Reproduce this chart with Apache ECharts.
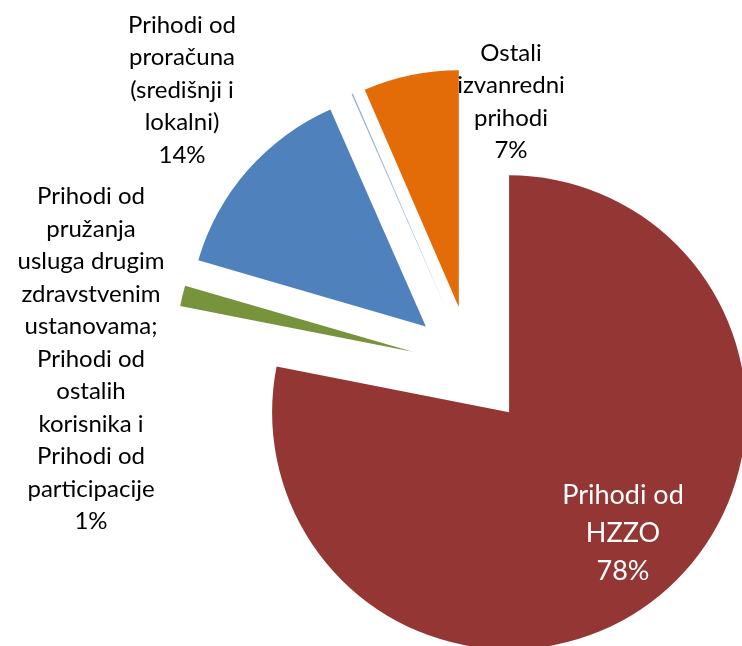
<!DOCTYPE html>
<html>
<head>
<meta charset="utf-8">
<script src="https://cdn.jsdelivr.net/npm/echarts@6/dist/echarts.min.js"></script>
<style>
html,body{margin:0;padding:0;background:#fff;}
#chart{width:742px;height:646px;}
</style>
</head>
<body>
<div id="chart"></div>
<script>
// Categories (label text as shown, with its line breaks)
const categories = [
  'Prihodi od\nHZZO',
  'Prihodi od\npružanja\nusluga drugim\nzdravstvenim\nustanovama;\nPrihodi od\nostalih\nkorisnika i\nPrihodi od\nparticipacije',
  'Prihodi od\nproračuna\n(središnji i\nlokalni)',
  'Ostalo',
  'Ostali\nizvanredni\nprihodi'
];
// Share of revenue (%)
const values = [78.1, 1.4, 13.9, 0.1, 6.5];
const colors = ['#943634', '#77933C', '#4F81BD', '#95B3D7', '#E36C09'];
const showLabel = [true, true, true, false, true];

// label block centres (layout only)
const labelCentres = [[623, 533], [91, 359], [182, 90], [0, 0], [511, 102]];

const total = values.reduce((a, b) => a + b, 0);

const chart = echarts.init(document.getElementById('chart'), null, {renderer: 'canvas'});

const data = categories.map((name, i) => ({
  name: name,
  value: values[i],
  selected: true,
  itemStyle: {color: colors[i]}
}));

const labels = [];
categories.forEach((name, i) => {
  if (!showLabel[i]) return;
  const pct = Math.round(values[i] / total * 100);
  const isMain = i === 0;
  labels.push({
    type: 'text',
    x: labelCentres[i][0],
    y: labelCentres[i][1],
    silent: true,
    style: {
      text: name + '\n' + pct + '%',
      fontFamily: 'Lato',
      fontSize: isMain ? 27 : 24,
      lineHeight: isMain ? 38 : 32.5,
      fill: isMain ? '#ffffff' : '#000000',
      align: 'center',
      verticalAlign: 'middle'
    },
    z: 100
  });
});

chart.setOption({
  animation: false,
  graphic: labels,
  series: [{
    type: 'pie',
    center: [471, 366],
    radius: 237,
    startAngle: 90,
    clockwise: true,
    selectedMode: 'multiple',
    selectedOffset: 60,
    avoidLabelOverlap: false,
    silent: true,
    itemStyle: {borderWidth: 0},
    select: {itemStyle: {borderWidth: 0}},
    emphasis: {disabled: true},
    labelLine: {show: false},
    label: {show: false},
    data: data
  }]
});
</script>
</body>
</html>
